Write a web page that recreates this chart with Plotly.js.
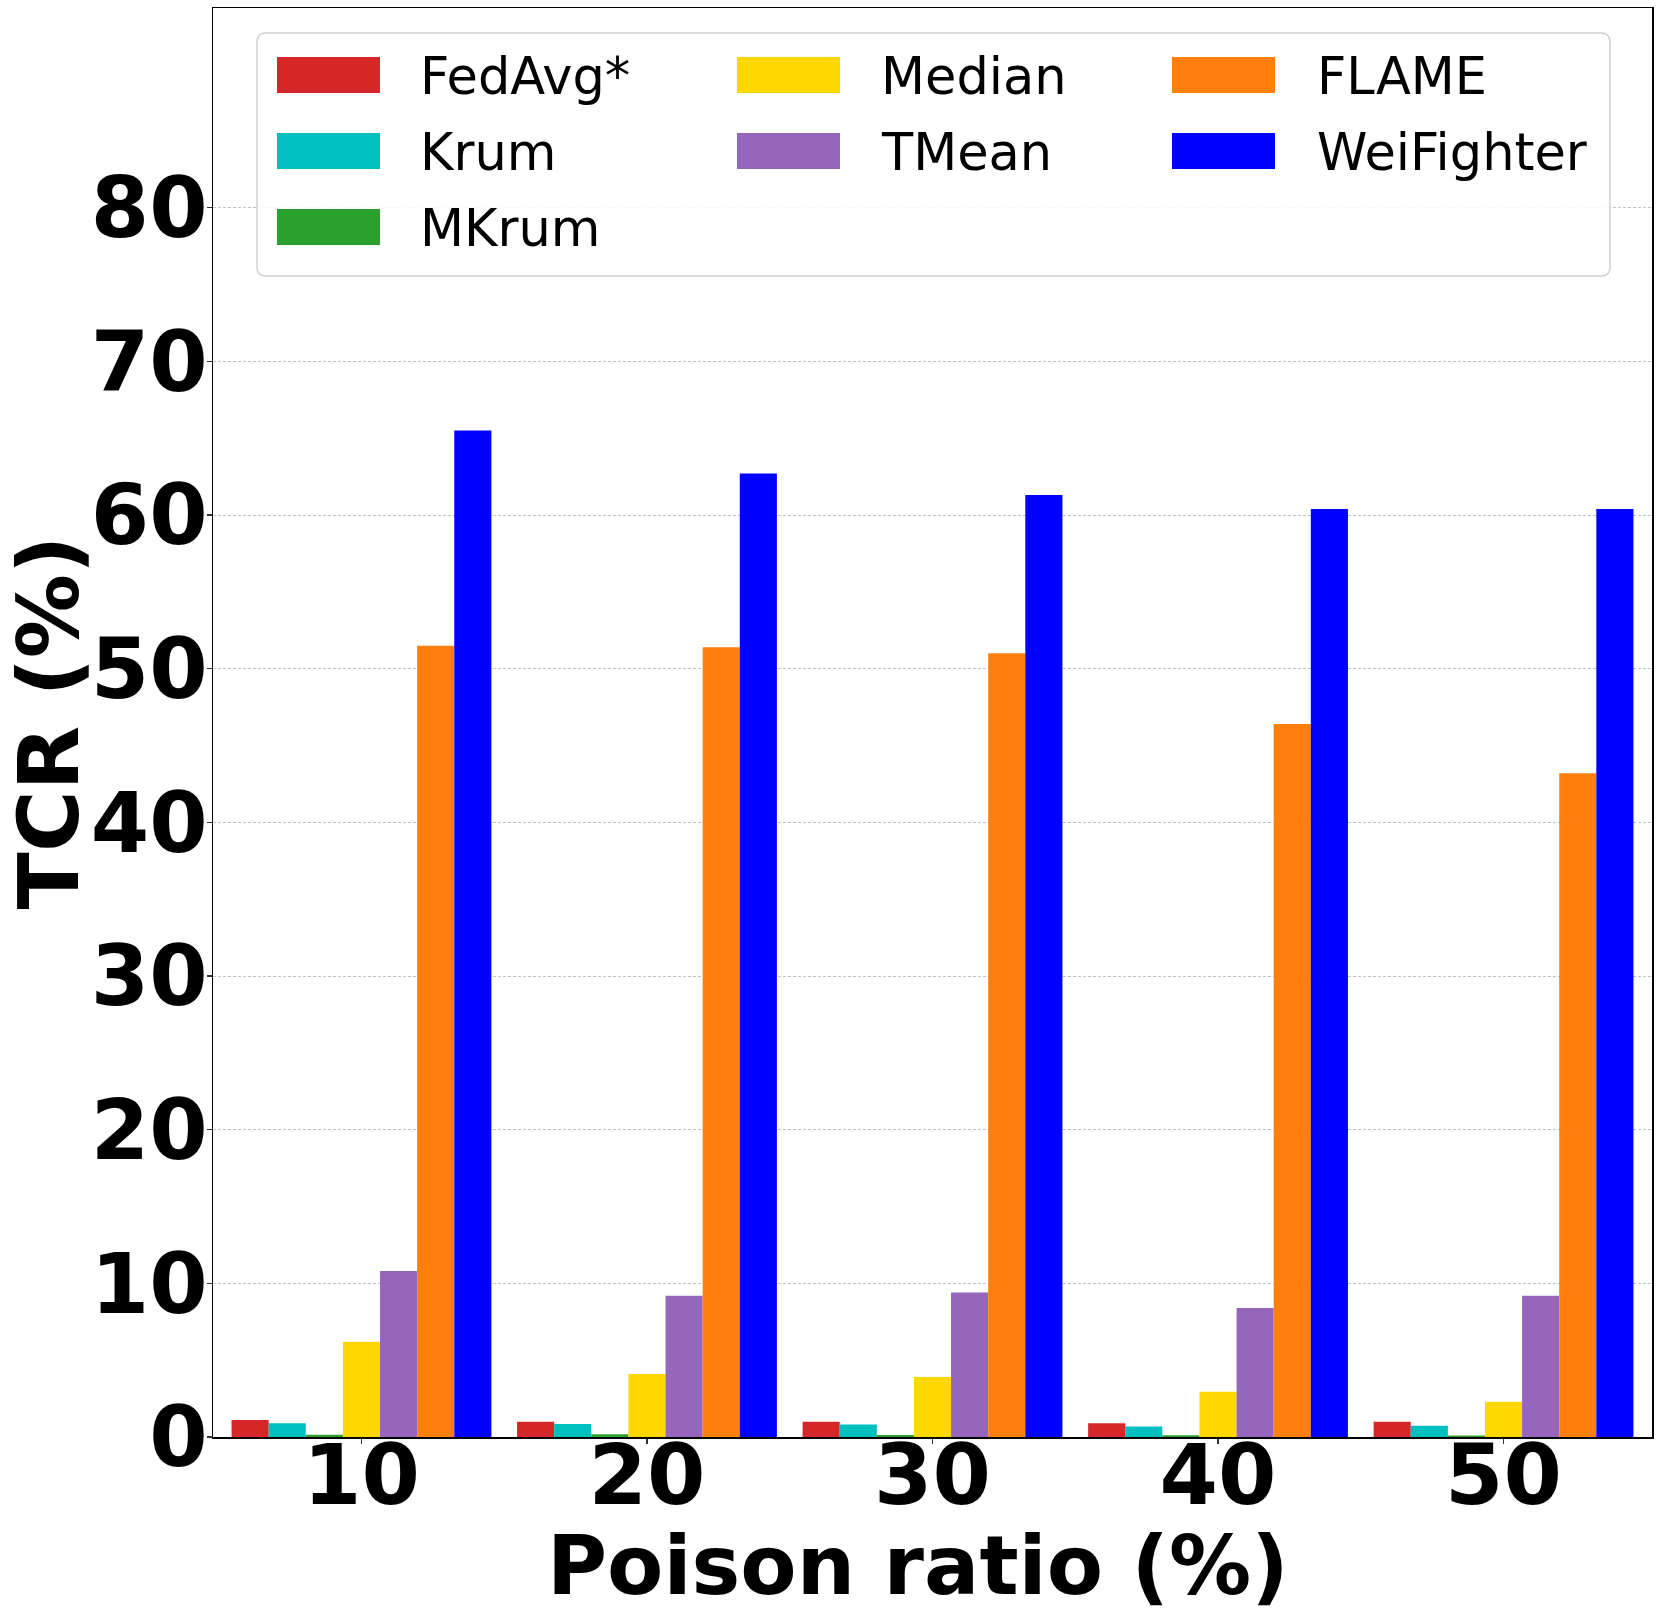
<!DOCTYPE html>
<html>
<head>
<meta charset="utf-8">
<script src="https://cdn.plot.ly/plotly-3.0.1.min.js"></script>
<style>html,body{margin:0;padding:0;background:#fff;}#chart{width:1661px;height:1616px;}</style>
</head>
<body>
<div id="chart"></div>
<script>
// ---- data ----
const categories = ['10', '20', '30', '40', '50'];
const seriesNames = ['FedAvg*', 'Krum', 'MKrum', 'Median', 'TMean', 'FLAME', 'WeiFighter'];
const seriesColors = ['#d62728', '#00bfbf', '#2ca02c', '#ffd700', '#9467bd', '#ff7f0e', '#0000ff'];
const fedavg     = [1.1, 1.0, 1.0, 0.9, 1.0];
const krum       = [0.9, 0.85, 0.82, 0.69, 0.74];
const mkrum      = [0.15, 0.18, 0.13, 0.12, 0.1];
const median     = [6.2, 4.1, 3.9, 2.95, 2.3];
const tmean      = [10.8, 9.2, 9.4, 8.4, 9.2];
const flame      = [51.5, 51.4, 51.0, 46.4, 43.2];
const weifighter = [65.5, 62.7, 61.3, 60.4, 60.4];
const yTickVals  = [0, 10, 20, 30, 40, 50, 60, 70, 80];
const xTitle = 'Poison ratio (%)';
const yTitle = 'TCR (%)';
const seriesValues = [fedavg, krum, mkrum, median, tmean, flame, weifighter];

// legend layout: matplotlib ncol=3 column-major
const legendCols = [[0, 1, 2], [3, 4], [5, 6]];

// ---- geometry ----
const W = 1661, H = 1616;
const M = {l: 213, r: 9, t: 8, b: 179};
const PW = W - M.l - M.r, PH = H - M.t - M.b;
const px = x => (x - M.l) / PW;
const py = y => (H - M.b - y) / PH;

const traces = seriesNames.map((name, i) => ({
  type: 'bar',
  name: name,
  x: categories,
  y: seriesValues[i],
  marker: {color: seriesColors[i], line: {width: 0}},
  showlegend: false,
  hoverinfo: 'x+y+name'
}));

// custom legend (matplotlib style)
const shapes = [];
const annotations = [];
const lgX0 = 257, lgX1 = 1610, lgY0 = 33, lgY1 = 276, rr = 9;
function rp(x, y) { return px(x).toFixed(5) + ',' + py(y).toFixed(5); }
shapes.push({
  type: 'path', xref: 'paper', yref: 'paper', layer: 'above',
  path: 'M' + rp(lgX0 + rr, lgY0) + ' L' + rp(lgX1 - rr, lgY0) +
        ' Q' + rp(lgX1, lgY0) + ' ' + rp(lgX1, lgY0 + rr) +
        ' L' + rp(lgX1, lgY1 - rr) +
        ' Q' + rp(lgX1, lgY1) + ' ' + rp(lgX1 - rr, lgY1) +
        ' L' + rp(lgX0 + rr, lgY1) +
        ' Q' + rp(lgX0, lgY1) + ' ' + rp(lgX0, lgY1 - rr) +
        ' L' + rp(lgX0, lgY0 + rr) +
        ' Q' + rp(lgX0, lgY0) + ' ' + rp(lgX0 + rr, lgY0) + ' Z',
  fillcolor: 'rgba(255,255,255,0.85)',
  line: {color: '#d0d0d0', width: 1.5}
});
const colSwatchX = [277, 737, 1172];
const colTextX = [418, 879, 1315];
const rowCY = [75, 151, 227];
legendCols.forEach((col, c) => {
  col.forEach((si, r) => {
    shapes.push({
      type: 'rect', xref: 'paper', yref: 'paper', layer: 'above',
      x0: px(colSwatchX[c]), x1: px(colSwatchX[c] + 103),
      y0: py(rowCY[r] - 18), y1: py(rowCY[r] + 18),
      fillcolor: seriesColors[si], line: {width: 0}
    });
    annotations.push({
      xref: 'paper', yref: 'paper', x: px(colTextX[c]), y: py(rowCY[r] + 2),
      xanchor: 'left', yanchor: 'middle', showarrow: false,
      text: seriesNames[si],
      font: {family: 'DejaVu Sans', size: 51, color: '#000'}
    });
  });
});

// x-axis title as a positioned annotation (matplotlib places it slightly left of centre)
annotations.push({
  xref: 'paper', yref: 'paper', x: px(918), y: py(1615),
  xanchor: 'center', yanchor: 'bottom', showarrow: false,
  text: '<b>' + xTitle + '</b>',
  font: {family: 'DejaVu Sans', size: 82, color: '#000'}
});

const layout = {
  width: W, height: H,
  margin: M,
  paper_bgcolor: '#fff', plot_bgcolor: '#fff',
  barmode: 'group', bargap: 0.09, bargroupgap: 0,
  font: {family: 'DejaVu Sans', color: '#000'},
  xaxis: {
    type: 'category',
    range: [-0.52, 4.52],
    showline: true, mirror: true, linecolor: '#000', linewidth: 1.5,
    ticks: 'outside', ticklen: 5, tickwidth: 1.2, tickcolor: '#333',
    ticklabelstandoff: -40,
    tickfont: {family: 'DejaVu Sans', size: 84, weight: 'bold', color: '#000'},
    showgrid: false, zeroline: false,
    automargin: false
  },
  yaxis: {
    range: [0, 93],
    tickvals: yTickVals,
    ticktext: yTickVals.map(String),
    showline: true, mirror: true, linecolor: '#000', linewidth: 1.5,
    ticks: 'outside', ticklen: 5, tickwidth: 1.2, tickcolor: '#333',
    ticklabelstandoff: -18,
    tickfont: {family: 'DejaVu Sans', size: 84, weight: 'bold', color: '#000'},
    showgrid: true, gridcolor: '#b0b0b0', gridwidth: 0.8, griddash: '3px,2px',
    zeroline: false,
    title: {text: '<b>' + yTitle + '</b>', font: {family: 'DejaVu Sans', size: 84, color: '#000'}, standoff: 10},
    automargin: false
  },
  shapes: shapes,
  annotations: annotations,
  showlegend: false
};

Plotly.newPlot('chart', traces, layout, {displayModeBar: false, staticPlot: true});
</script>
</body>
</html>
